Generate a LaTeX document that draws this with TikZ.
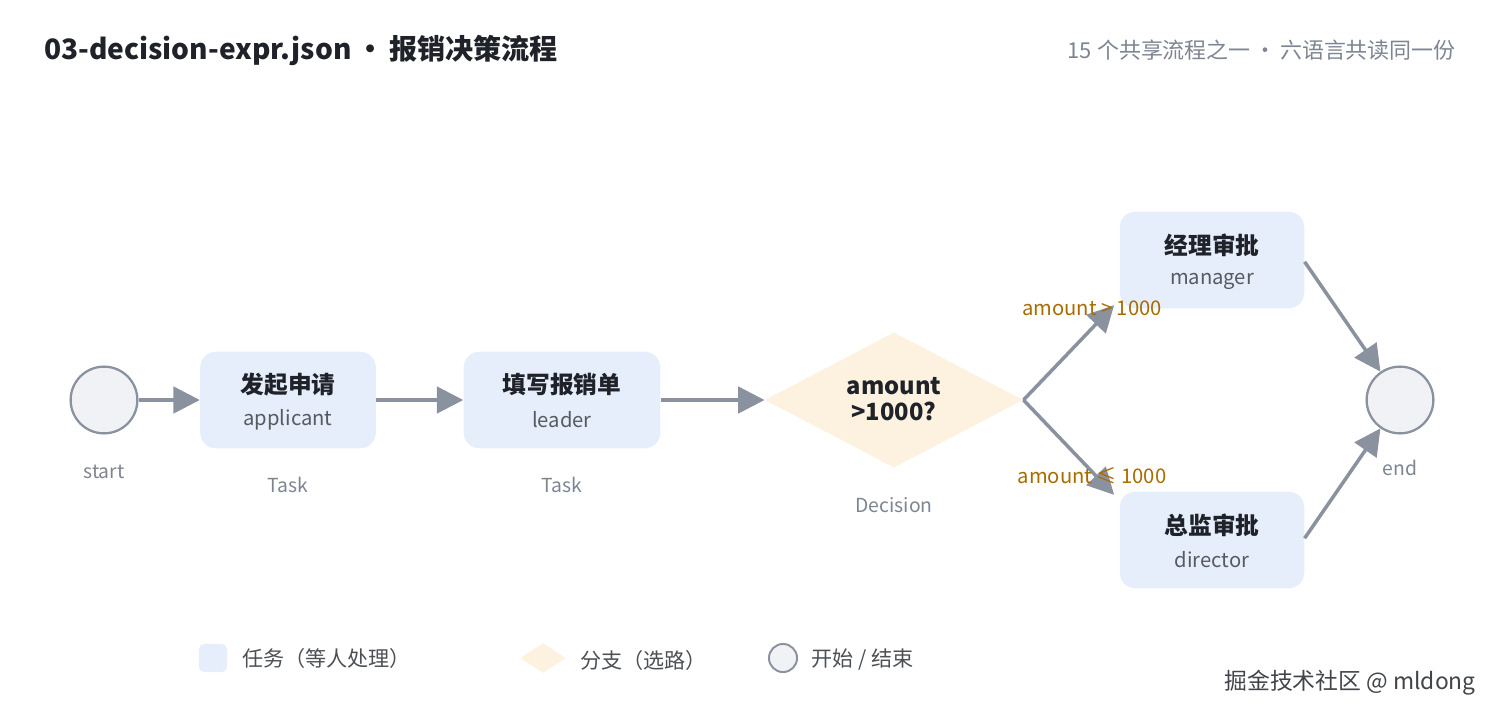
\documentclass[tikz,border=0pt]{standalone}
\usepackage{fontspec}
\setmainfont{Noto Sans CJK SC}
\usetikzlibrary{shapes.geometric,arrows.meta,positioning}
\definecolor{taskfill}{HTML}{E6EEFC}
\definecolor{decfill}{HTML}{FDF1E0}
\definecolor{circfill}{HTML}{F0F2F5}
\definecolor{edge}{HTML}{8A919F}
\definecolor{ink}{HTML}{1F2329}
\definecolor{muted}{HTML}{7D8592}
\definecolor{cond}{HTML}{A86B00}
\tikzset{
  task/.style={rectangle,rounded corners=9pt,fill=taskfill,minimum width=#1,minimum height=55pt,inner sep=0pt},
  task/.default=100pt,
  dec/.style={diamond,fill=decfill,minimum width=147pt,minimum height=77pt,aspect=1.9,inner sep=0pt},
  ev/.style={circle,draw=edge,line width=1.3pt,fill=circfill,minimum size=38pt,inner sep=0pt},
  flow/.style={draw=edge,line width=2pt,-{Triangle[length=15pt,width=15pt]}},
  big/.style={font=\fontsize{13.5}{15}\selectfont\bfseries,text=ink},
  small/.style={font=\fontsize{11}{13}\selectfont,text=muted},
  role/.style={font=\fontsize{11.5}{13}\selectfont,text=ink!75},
  condl/.style={font=\fontsize{11.5}{13}\selectfont,text=cond}
}
\begin{document}
\begin{tikzpicture}[x=0.02cm,y=-0.02cm]
  \useasboundingbox (0,0) rectangle (1500,720);
  % title
  \node[anchor=west,font=\fontsize{16}{18}\selectfont\bfseries,text=ink] (title) at (38,50) {03-decision-expr.json\,•\,报销决策流程};
  \node[anchor=east,font=\fontsize{12.5}{14}\selectfont,text=muted] (sub) at (1462,50) {15 个共享流程之一\,·\,六语言共读同一份};
  % nodes
  \node[ev] (start) at (104,400) {};
  \node[small,below=14pt of start.south,anchor=north] (startl) {start};
  \node[task] (apply) at (288,400) {};
  \node[big] at (288,385) {发起申请};
  \node[role] at (288,420) {applicant};
  \node[small] (t1) at (288,485) {Task};
  \node[task=112pt] (fill) at (562,400) {};
  \node[big] at (562,385) {填写报销单};
  \node[role] at (562,420) {leader};
  \node[small] (t2) at (562,485) {Task};
  \node[dec] (amt) at (894,400) {};
  \node[big,align=center] at (894,399) {amount\\>1000?};
  \node[small] (dl) at (894,505) {Decision};
  \node[task=105pt] (mgr) at (1212,260) {};
  \node[big] at (1212,245) {经理审批};
  \node[role] at (1212,281) {manager};
  \node[task=105pt] (dir) at (1212,540) {};
  \node[big] at (1212,525) {总监审批};
  \node[role] at (1212,560) {director};
  \node[ev] (end) at (1400,400) {};
  \node[small] (endl) at (1400,468) {end};
  % connectors
  \draw[flow] (start) -- (apply);
  \draw[flow] (apply) -- (fill);
  \draw[flow] (fill) -- (amt);
  \draw[flow] (amt.east) -- ([xshift=-3pt,yshift=2pt]mgr.south west);
  \draw[flow] (amt.east) -- ([xshift=-3pt,yshift=-2pt]dir.north west);
  \draw[flow] ([yshift=-1pt]mgr.east) -- (end);
  \draw[flow] ([yshift=1pt]dir.east) -- (end);
  \node[condl] (c1) at (1092,308) {amount\ >\ 1000};
  \node[condl] (c2) at (1092,476) {amount\ ≤\ 1000};
  % legend
  \node[rectangle,rounded corners=3pt,fill=taskfill,minimum size=16pt,inner sep=0pt] (lg1) at (213,658) {};
  \node[anchor=west,font=\fontsize{12}{14}\selectfont,text=ink!80,right=5pt of lg1] {任务（等人处理）};
  \node[diamond,fill=decfill,minimum width=26pt,minimum height=17pt,aspect=1.6,inner sep=0pt] (lg2) at (543,658) {};
  \node[anchor=west,font=\fontsize{12}{14}\selectfont,text=ink!80] at (574,660) {分支（选路）};
  \node[circle,draw=edge,line width=1.1pt,fill=circfill,minimum size=16pt,inner sep=0pt] (lg3) at (783,658) {};
  \node[anchor=west,font=\fontsize{12}{14}\selectfont,text=ink!80] at (805,660) {开始 / 结束};
  \node[anchor=east,font=\fontsize{13}{15}\selectfont,text=ink!85] (wm) at (1482,683) {掘金技术社区 @ mldong};
\end{tikzpicture}
\end{document}
